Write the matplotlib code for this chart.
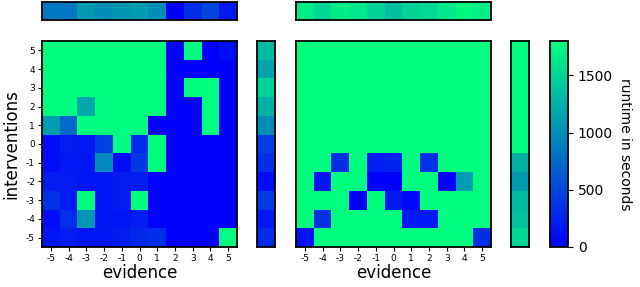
import matplotlib
matplotlib.use("Agg")
import matplotlib.pyplot as plt
import numpy as np

# rows: interventions 5 .. -5 (top to bottom), columns: evidence -5 .. 5
evidence = [-5, -4, -3, -2, -1, 0, 1, 2, 3, 4, 5]
interventions = [5, 4, 3, 2, 1, 0, -1, -2, -3, -4, -5]
T = 1800  # timeout

runtime_left = np.array([
    [T, T, T, T, T, T, T, 0, T, 0, 100],
    [T, T, T, T, T, T, T, 0, 0, 0, 0],
    [T, T, T, T, T, T, T, 0, T, T, 0],
    [T, T, 1200, T, T, T, T, 0, 0, T, 0],
    [1100, 750, T, T, T, T, 0, 0, 0, T, 0],
    [100, 200, 180, 450, T, 300, T, 0, 0, 0, 0],
    [100, 180, 160, 950, 100, 400, T, 0, 0, 0, 0],
    [200, 200, 150, 150, 200, 200, 0, 0, 0, 0, 0],
    [350, 200, T, 150, 200, T, 0, 0, 0, 0, 0],
    [100, 330, 1050, 150, 150, 200, 0, 0, 0, 0, 0],
    [150, 200, 150, 150, 200, 280, 330, 0, 0, 0, T],
])

runtime_right = np.array([
    [T, T, T, T, T, T, T, T, T, T, T],
    [T, T, T, T, T, T, T, T, T, T, T],
    [T, T, T, T, T, T, T, T, T, T, T],
    [T, T, T, T, T, T, T, T, T, T, T],
    [T, T, T, T, T, T, T, T, T, T, T],
    [T, T, T, T, T, T, T, T, T, T, T],
    [T, T, 350, T, 200, 250, T, 350, T, T, T],
    [T, 150, T, T, 0, 0, T, T, 0, 1100, T],
    [T, T, T, 0, T, 180, 60, T, T, T, T],
    [T, 350, T, T, T, T, 170, 170, T, T, T],
    [120, T, T, T, T, T, T, T, T, T, 350],
])

cmap = "winter"
vmin, vmax = 0, 1800

fig = plt.figure(figsize=(6.4, 2.87), dpi=100)
W, H = 640.0, 287.0


def box(x0, y0, x1, y1):
    return [x0 / W, 1 - y1 / H, (x1 - x0) / W, (y1 - y0) / H]


def frame(ax):
    for s in ax.spines.values():
        s.set_linewidth(1.3)


def panel(data, x0, x1, bar_x0, bar_x1, first):
    ax = fig.add_axes(box(x0, 41, x1, 247))
    ax.imshow(data, cmap=cmap, vmin=vmin, vmax=vmax, aspect="auto",
              interpolation="nearest")
    ax.set_xticks(range(len(evidence)))
    ax.set_xticklabels(evidence, fontsize=6.5)
    ax.set_yticks(range(len(interventions)))
    if first:
        ax.set_yticklabels(interventions, fontsize=6.5)
        ax.set_ylabel("interventions", fontsize=12)
    else:
        ax.set_yticks([])
    ax.set_xlabel("evidence", fontsize=12, labelpad=1)
    ax.tick_params(length=3, width=0.8, pad=2)
    frame(ax)

    top = fig.add_axes(box(x0, 2, x1, 20))
    top.imshow(data.mean(axis=0)[None, :], cmap=cmap, vmin=vmin, vmax=vmax,
               aspect="auto", interpolation="nearest")
    top.set_xticks([])
    top.set_yticks([])
    frame(top)

    side = fig.add_axes(box(bar_x0, 41, bar_x1, 247))
    side.imshow(data.mean(axis=1)[:, None], cmap=cmap, vmin=vmin, vmax=vmax,
                aspect="auto", interpolation="nearest")
    side.set_xticks([])
    side.set_yticks([])
    frame(side)
    return ax


ax1 = panel(runtime_left, 42, 237, 257, 275, True)
ax2 = panel(runtime_right, 296, 491, 511, 529, False)

cax = fig.add_axes(box(550, 41, 568, 247))
sm = plt.cm.ScalarMappable(cmap=cmap, norm=plt.Normalize(vmin, vmax))
cb = fig.colorbar(sm, cax=cax)
cb.set_ticks([0, 500, 1000, 1500])
cb.ax.tick_params(labelsize=10)
cb.outline.set_linewidth(1.3)
cb.set_label("runtime in seconds", rotation=270, fontsize=10, labelpad=14)

fig.savefig("out.png", dpi=100)
